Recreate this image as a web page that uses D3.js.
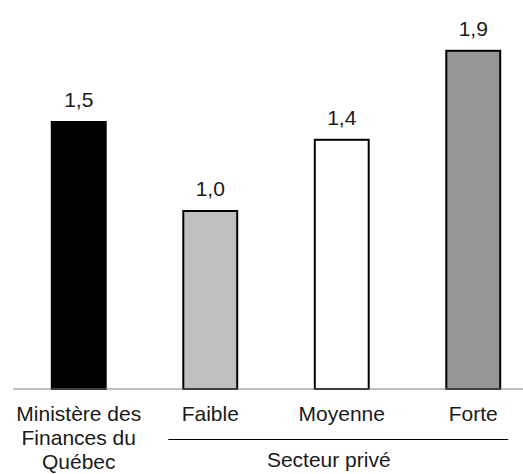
<!DOCTYPE html>
<html>
<head>
<meta charset="utf-8">
<script src="https://cdn.jsdelivr.net/npm/d3@7"></script>
<style>
  html, body { margin: 0; padding: 0; background: #fff; }
  svg { display: block; }
  text { font-family: Arial, "Liberation Sans", sans-serif; fill: #1a1a1a; }
</style>
</head>
<body>
<script>
// Categories, values and styling per bar
const categories = ["MFQ", "Faible", "Moyenne", "Forte"];
const categoryLabels = [["Ministère des", "Finances du", "Québec"], ["Faible"], ["Moyenne"], ["Forte"]];
const values = [1.5, 1.0, 1.4, 1.9];
const fills = ["#000000", "#c0c0c0", "#ffffff", "#969696"];
const groupLabel = "Secteur privé";
const groupMembers = ["Faible", "Moyenne", "Forte"];

const W = 523, H = 474;
const FS = 21;
const svg = d3.select("body").append("svg").attr("width", W).attr("height", H);

const x = d3.scaleBand().domain(categories).range([13, 539]).paddingInner(0.59).paddingOuter(0.295);
const y = d3.scaleLinear().domain([0, 2]).range([389, 33]);

const fmt = v => d3.format(".1f")(v).replace(".", ",");

// Bars
svg.selectAll("rect.bar").data(values).join("rect")
  .attr("class", "bar")
  .attr("x", (d, i) => x(categories[i]))
  .attr("y", d => y(d))
  .attr("width", x.bandwidth())
  .attr("height", d => y(0) - y(d))
  .attr("fill", (d, i) => fills[i])
  .attr("stroke", "#000")
  .attr("stroke-width", 2);

// Value labels
svg.selectAll("text.val").data(values).join("text")
  .attr("class", "val")
  .attr("x", (d, i) => x(categories[i]) + x.bandwidth() / 2)
  .attr("y", d => y(d) - 15)
  .attr("text-anchor", "middle")
  .attr("font-size", FS)
  .text(fmt);

// Baseline
svg.append("line")
  .attr("x1", 13).attr("x2", W)
  .attr("y1", y(0)).attr("y2", y(0))
  .attr("stroke", "#808080").attr("stroke-width", 1.2);

// Category labels
categories.forEach((c, i) => {
  const cx = x(c) + x.bandwidth() / 2;
  const t = svg.append("text")
    .attr("x", cx)
    .attr("y", 421)
    .attr("text-anchor", "middle")
    .attr("font-size", FS);
  categoryLabels[i].forEach((line, j) => {
    t.append("tspan").attr("x", cx).attr("dy", j === 0 ? 0 : 24).text(line);
  });
});

// Group bracket under the private-sector categories
const gx0 = x(groupMembers[0]) - 15;
const gx1 = x(groupMembers[groupMembers.length - 1]) + x.bandwidth() + 8;
svg.append("line")
  .attr("x1", gx0).attr("x2", gx1)
  .attr("y1", 439.5).attr("y2", 439.5)
  .attr("stroke", "#000").attr("stroke-width", 1);
svg.append("text")
  .attr("x", x("Moyenne") + x.bandwidth() / 2 - 13)
  .attr("y", 467)
  .attr("text-anchor", "middle")
  .attr("font-size", FS)
  .text(groupLabel);
</script>
</body>
</html>
